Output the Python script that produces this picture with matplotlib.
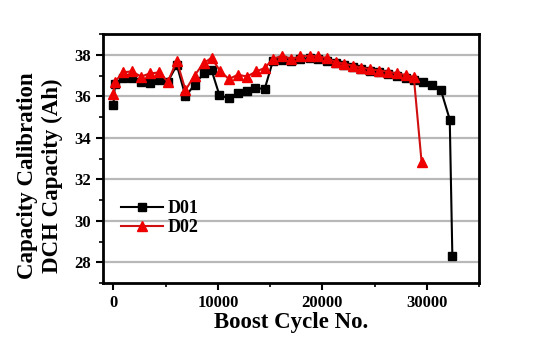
import matplotlib
matplotlib.use("Agg")
import matplotlib.pyplot as plt
from matplotlib.ticker import MultipleLocator

# datos
ciclos_d01 = [0, 150, 900, 1750, 2650, 3500, 4400, 5200, 6070, 6900, 7770, 8630,
              9400, 10150, 11050, 11900, 12750, 13600, 14480, 15270, 16170, 17030,
              17900, 18790, 19590, 20450, 21280, 22080, 22940, 23740, 24540, 25430,
              26300, 27160, 28000, 28800, 29650, 30500, 31350, 32200, 32450]
cap_d01 = [35.6, 36.6, 36.88, 36.9, 36.7, 36.63, 36.8, 36.7, 37.5, 36.0, 36.55, 37.1,
           37.25, 36.05, 35.9, 36.15, 36.25, 36.4, 36.35, 37.7, 37.75, 37.7,
           37.8, 37.82, 37.8, 37.72, 37.58, 37.5, 37.4, 37.3, 37.22, 37.15,
           37.08, 37.0, 36.9, 36.8, 36.7, 36.52, 36.3, 34.88, 28.3]

ciclos_d02 = [0, 150, 900, 1750, 2650, 3500, 4400, 5200, 6070, 6900, 7770, 8630,
              9400, 10230, 11060, 11920, 12780, 13680, 14480, 15270, 16170, 17030,
              17900, 18790, 19590, 20450, 21280, 22080, 22940, 23740, 24540, 25430,
              26300, 27160, 28000, 28760, 29500]
cap_d02 = [36.1, 36.7, 37.15, 37.2, 36.95, 37.1, 37.15, 36.7, 37.7, 36.3, 37.0, 37.6,
           37.85, 37.2, 36.83, 37.04, 36.95, 37.2, 37.36, 37.8, 37.95, 37.8,
           37.92, 37.95, 37.92, 37.84, 37.65, 37.57, 37.47, 37.38, 37.31, 37.24,
           37.18, 37.1, 37.02, 36.92, 32.85]

plt.rcParams['font.family'] = 'Liberation Serif'
plt.rcParams['font.weight'] = 'bold'

fig = plt.figure(figsize=(5.44, 3.51), dpi=100)
ax = fig.add_axes([0.1893, 0.1937, 0.6912, 0.7094])

ax.plot(ciclos_d01, cap_d01, color='black', lw=1.5, marker='s', ms=6,
        markerfacecolor='black', markeredgecolor='black', label='D01', zorder=3)
ax.plot(ciclos_d02, cap_d02, color='#d01010', lw=1.5, marker='^', ms=7.5,
        markerfacecolor='#ee0000', markeredgecolor='#ee0000', label='D02', zorder=4)

ax.set_xlim(-1000, 35000)
ax.set_ylim(27, 39)
ax.xaxis.set_major_locator(MultipleLocator(10000))
ax.xaxis.set_minor_locator(MultipleLocator(5000))
ax.yaxis.set_major_locator(MultipleLocator(2))
ax.yaxis.set_minor_locator(MultipleLocator(1))
ax.grid(True, axis='y', which='major', color='#b8b8b8', lw=1.6)
ax.set_axisbelow(True)

for s in ax.spines.values():
    s.set_linewidth(2)
ax.tick_params(axis='both', which='major', direction='out', length=5, width=1.5,
               labelsize=12)
ax.tick_params(axis='both', which='minor', direction='out', length=3, width=1.2)
for lab in ax.get_xticklabels() + ax.get_yticklabels():
    lab.set_fontweight('bold')

ax.set_xlabel('Boost Cycle No.', fontsize=16.5, fontweight='bold', labelpad=1)
ax.set_ylabel('Capacity Calibration\nDCH Capacity (Ah)', fontsize=16.5,
              fontweight='bold', linespacing=1.25)
ax.yaxis.set_label_coords(-0.105, 0.43)

ax.legend(loc='center left', bbox_to_anchor=(0.005, 0.26), frameon=False,
          prop={'size': 13, 'weight': 'bold'}, handlelength=2.3,
          labelspacing=0.1, handletextpad=0.3)

fig.savefig('out.png', dpi=100)
